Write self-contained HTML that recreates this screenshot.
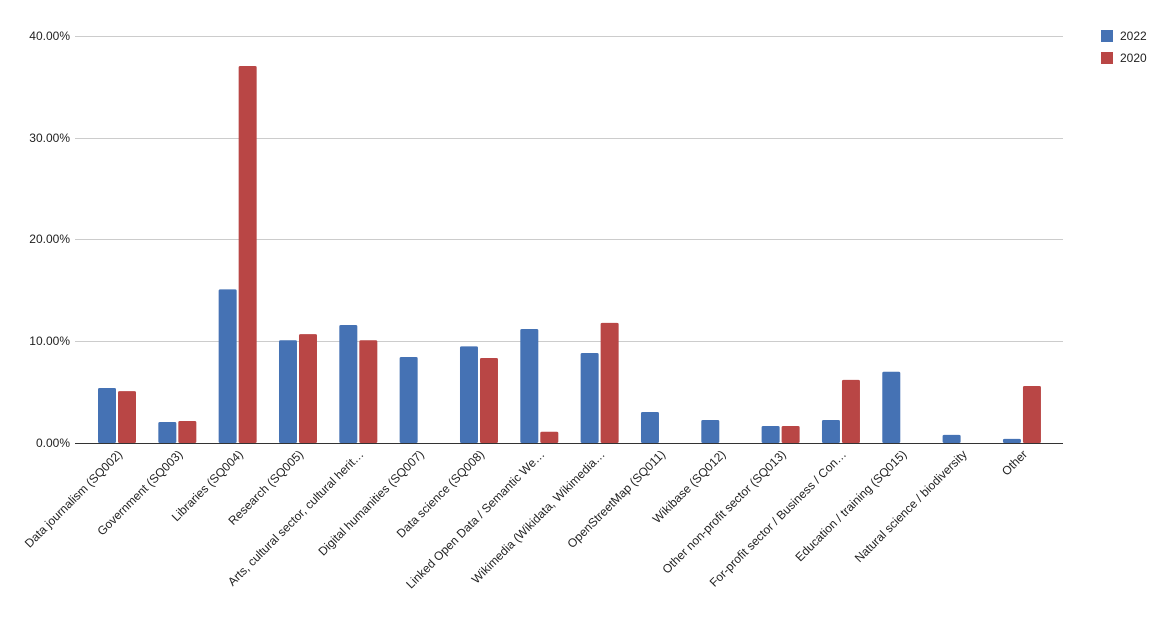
<!DOCTYPE html>
<html><head><meta charset="utf-8"><style>body{margin:0;background:#fff}svg{display:block}text{font-family:"Liberation Sans",Arial,sans-serif;fill:#222}</style></head>
<body>
<svg width="1164" height="617" viewBox="0 0 1164 617" xmlns="http://www.w3.org/2000/svg">
<g stroke="#cccccc" stroke-width="1">
<line x1="75" y1="36.5" x2="1063" y2="36.5"/>
<line x1="75" y1="138.5" x2="1063" y2="138.5"/>
<line x1="75" y1="239.5" x2="1063" y2="239.5"/>
<line x1="75" y1="341.5" x2="1063" y2="341.5"/>
</g>
<g font-size="12" text-anchor="end">
<text x="70" y="40">40.00%</text>
<text x="70" y="142">30.00%</text>
<text x="70" y="243">20.00%</text>
<text x="70" y="345">10.00%</text>
<text x="70" y="447">0.00%</text>
</g>
<g id="bars"></g>
<line x1="75" y1="443.5" x2="1063" y2="443.5" stroke="#333" stroke-width="1"/>
<g id="labels" font-size="12" text-anchor="end"></g>
<rect x="1101" y="30" width="12" height="12" fill="#4572b4"/>
<text x="1120" y="40" font-size="12">2022</text>
<rect x="1101" y="52" width="12" height="12" fill="#b94645"/>
<text x="1120" y="62" font-size="12">2020</text>
<script>
var d=[[5.4,5.1,"Data journalism (SQ002)"],[2.06,2.16,"Government (SQ003)"],[15.1,37.05,"Libraries (SQ004)"],[10.1,10.7,"Research (SQ005)"],[11.6,10.1,"Arts, cultural sector, cultural herit…"],[8.45,0,"Digital humanities (SQ007)"],[9.5,8.35,"Data science (SQ008)"],[11.2,1.1,"Linked Open Data / Semantic We…"],[8.85,11.8,"Wikimedia (Wikidata, Wikimedia…"],[3.05,0,"OpenStreetMap (SQ011)"],[2.26,0,"Wikibase (SQ012)"],[1.67,1.67,"Other non-profit sector (SQ013)"],[2.26,6.2,"For-profit sector / Business / Con…"],[7.0,0,"Education / training (SQ015)"],[0.8,0,"Natural science / biodiversity"],[0.4,5.6,"Other"]];
var ns="http://www.w3.org/2000/svg",b=document.getElementById("bars"),l=document.getElementById("labels");
function r(x,v,c){if(!v)return;var h=v*10.175,e=document.createElementNS(ns,"rect");e.setAttribute("x",x);e.setAttribute("y",443-h);e.setAttribute("width",18);e.setAttribute("height",h);e.setAttribute("fill",c);e.setAttribute("rx",1.5);b.appendChild(e);}
d.forEach(function(a,i){var c=117+60.33*i;r(c-19,a[0],"#4572b4");r(c+1,a[1],"#b94645");var t=document.createElementNS(ns,"text");t.setAttribute("transform","translate("+(c+6)+",455) rotate(-45)");t.textContent=a[2];l.appendChild(t);});
</script>
</svg>
</body></html>
